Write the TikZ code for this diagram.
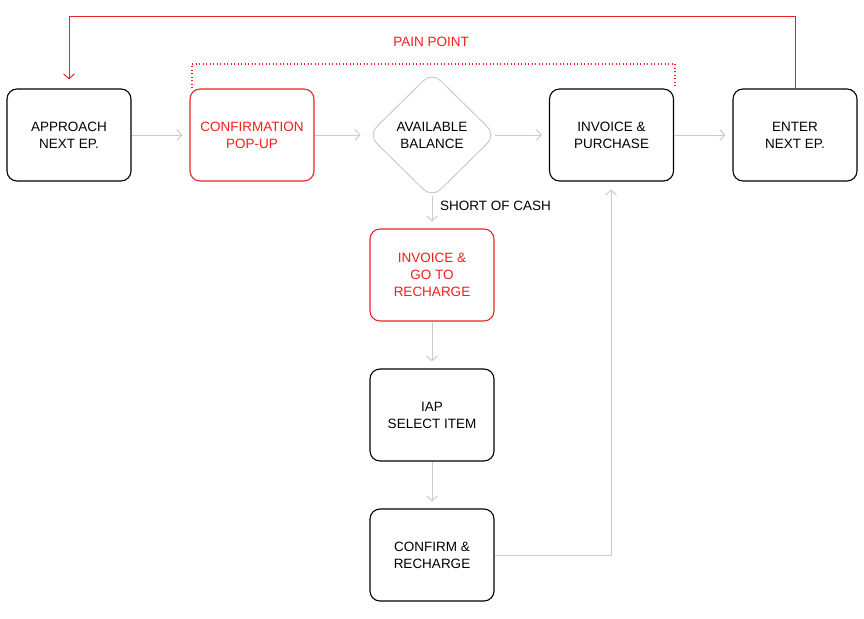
\documentclass[tikz,border=0pt]{standalone}
\usepackage{fontspec}
\setmainfont{Liberation Sans}
\usetikzlibrary{arrows.meta,shapes.geometric}
\definecolor{redc}{HTML}{E8232A}
\definecolor{redt}{HTML}{F51C1C}
\definecolor{grayc}{HTML}{CBCBCB}
\tikzset{
  stepbox/.style={draw=black, line width=1.1pt, rounded corners=10pt, minimum width=124pt, minimum height=92pt, align=center, font=\fontsize{13.5}{17}\selectfont, inner sep=0pt},
  redbox/.style={stepbox, draw=redc, text=redt},
  flow/.style={draw=grayc, line width=1pt, -{Straight Barb[length=5pt,width=11pt]}},
  back/.style={draw=redc, line width=1pt, -{Straight Barb[length=5pt,width=11pt]}},
  lbl/.style={font=\fontsize{13.5}{17}\selectfont, inner sep=0pt}
}
\begin{document}
\begin{tikzpicture}[x=1pt,y=-1pt]
\useasboundingbox (0,0) rectangle (864,618);
\node[stepbox] (a) at (69,135) {APPROACH\\NEXT EP.};
\node[redbox] (b) at (252,135) {CONFIRMATION\\POP-UP};
\node[diamond, draw=grayc, line width=1pt, rounded corners=12pt, minimum width=128pt, minimum height=126pt, inner sep=0pt, align=center, font=\fontsize{13.5}{17}\selectfont] (c) at (432,135) {AVAILABLE\\BALANCE};
\node[stepbox] (d) at (611.5,135) {INVOICE \&\\PURCHASE};
\node[stepbox] (e) at (795,135) {ENTER\\NEXT EP.};
\node[redbox] (f) at (432,275) {INVOICE \&\\GO TO\\RECHARGE};
\node[stepbox] (g) at (432,415) {IAP\\SELECT ITEM};
\node[stepbox] (h) at (432,555) {CONFIRM \&\\RECHARGE};

\draw[flow] (b.west -| a.east) -- ([xshift=-7pt]b.west);
\draw[flow] (b.east) -- ([xshift=-7pt]c.west);
\draw[flow] ([xshift=-2pt]c.east) -- ([xshift=-7pt]d.west);
\draw[flow] (d.east) -- ([xshift=-7pt]e.west);
\draw[flow] ([yshift=3pt]c.south) -- ([yshift=7pt]f.north);
\draw[flow] (f.south) -- ([yshift=7pt]g.north);
\draw[flow] (g.south) -- ([yshift=7pt]h.north);
\coordinate (hc) at (611,555);
\draw[flow] (h.east) -- (hc) -- ([yshift=-8pt]d.south -| hc);

\coordinate (t1) at (795,17);
\coordinate (t2) at (69,17);
\draw[back] (e.north -| t1) -- (t1) -- (t2) -- ([yshift=9pt]a.north);

\coordinate (p1) at (192,64);
\coordinate (p2) at (675,64);
\draw[redt, line width=1.1pt, dash pattern=on 1.3pt off 2.2pt] (p1 |- b.north) -- (p1) -- (p2) -- (p2 |- d.north);
\node[lbl, text=redt] (pp) at (431,42) {PAIN POINT};
\node[lbl, anchor=west] (sc) at (440,206) {SHORT OF CASH};
\end{tikzpicture}
\end{document}
